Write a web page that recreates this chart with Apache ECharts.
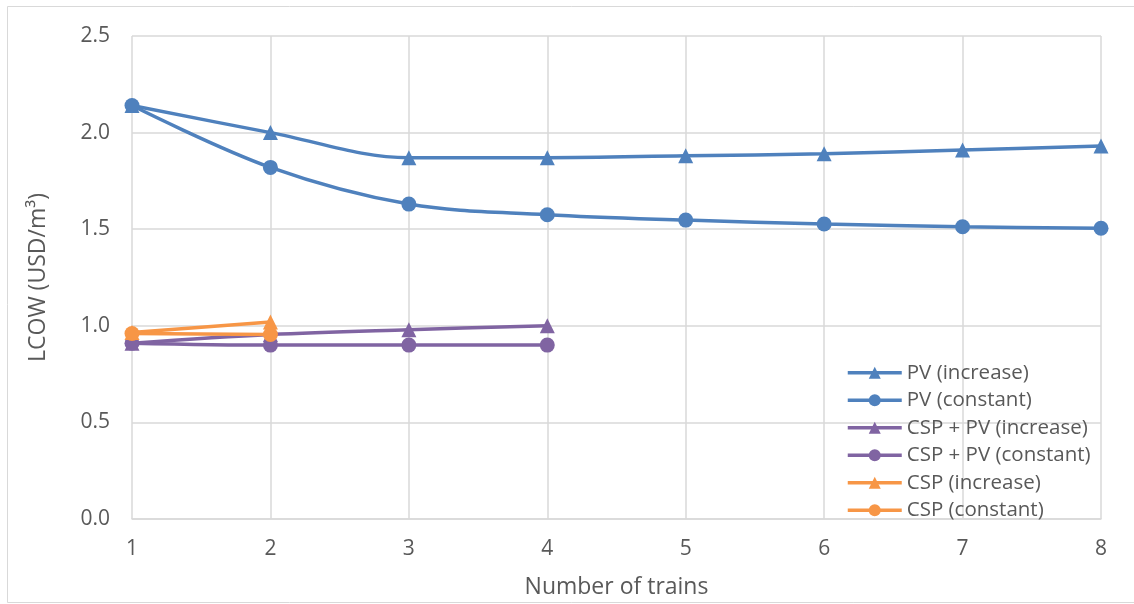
<!DOCTYPE html>
<html>
<head>
<meta charset="utf-8">
<script src="https://cdn.jsdelivr.net/npm/echarts@6/dist/echarts.min.js"></script>
<style>
  html, body { margin: 0; padding: 0; background: #fff; }
  #chart { width: 1134px; height: 604px; }
</style>
</head>
<body>
<div id="chart"></div>
<script>
// Number of trains on the x axis
const trains = [1, 2, 3, 4, 5, 6, 7, 8];

// LCOW (USD/m³) per configuration
const pvIncrease    = [2.14, 2.00, 1.87, 1.87, 1.88, 1.89, 1.91, 1.93];
const pvConstant    = [2.14, 1.82, 1.63, 1.575, 1.547, 1.527, 1.513, 1.505];
const cspPvIncrease = [0.91, 0.955, 0.98, 1.00];
const cspPvConstant = [0.91, 0.90, 0.90, 0.90];
const cspIncrease   = [0.965, 1.02];
const cspConstant   = [0.96, 0.955];

const seriesNames = [
  'PV (increase)', 'PV (constant)',
  'CSP + PV (increase)', 'CSP + PV (constant)',
  'CSP (increase)', 'CSP (constant)'
];

const BLUE = '#4F81BD', PURPLE = '#8064A2', ORANGE = '#F79646';
const FONT = 'Open Sans';
const TEXT = '#595959';

function pairs(values) {
  return values.map((v, i) => [trains[i], v]);
}

function line(name, values, color, symbol) {
  return {
    name: name,
    type: 'line',
    data: pairs(values),
    smooth: 0.35,
    symbol: symbol,
    symbolSize: 15,
    showSymbol: true,
    lineStyle: { color: color, width: 3.5 },
    itemStyle: { color: color },
    emphasis: { disabled: true }
  };
}

const chart = echarts.init(document.getElementById('chart'), null, { renderer: 'canvas' });

chart.setOption({
  animation: false,
  backgroundColor: '#fff',
  textStyle: { fontFamily: FONT, color: TEXT },
  graphic: [{
    type: 'rect',
    shape: { x: 7.5, y: 6.5, width: 1140, height: 596 },
    style: { fill: 'none', stroke: '#d9d9d9', lineWidth: 1 },
    silent: true
  }],
  grid: { left: 132, right: 33, top: 36, bottom: 83 },
  legend: {
    orient: 'vertical',
    left: 841,
    top: 357,
    itemWidth: 54,
    itemHeight: 15,
    itemGap: 6,
    data: seriesNames,
    lineStyle: { width: 3.5 },
    textStyle: { fontFamily: FONT, fontSize: 20.5, lineHeight: 21.5, color: TEXT }
  },
  xAxis: {
    type: 'value',
    min: 1,
    max: 8,
    interval: 1,
    name: 'Number of trains',
    nameLocation: 'middle',
    nameGap: 57,
    nameTextStyle: { fontFamily: FONT, fontSize: 23, color: TEXT },
    axisLine: { show: true, lineStyle: { color: '#d9d9d9', width: 1.5 } },
    axisTick: { show: false },
    axisLabel: { fontFamily: FONT, fontSize: 21, color: TEXT, margin: 20 },
    splitLine: { show: true, lineStyle: { color: '#d9d9d9', width: 1.5 } }
  },
  yAxis: {
    type: 'value',
    min: 0,
    max: 2.5,
    interval: 0.5,
    name: 'LCOW (USD/m³)',
    nameLocation: 'middle',
    nameGap: 82,
    nameTextStyle: { fontFamily: FONT, fontSize: 23, color: TEXT },
    axisLine: { show: false },
    axisTick: { show: false },
    axisLabel: {
      fontFamily: FONT, fontSize: 21, color: TEXT, margin: 22,
      formatter: v => v.toFixed(1)
    },
    splitLine: { show: true, lineStyle: { color: '#d9d9d9', width: 1.5 } }
  },
  series: [
    line(seriesNames[0], pvIncrease, BLUE, 'triangle'),
    line(seriesNames[1], pvConstant, BLUE, 'circle'),
    line(seriesNames[2], cspPvIncrease, PURPLE, 'triangle'),
    line(seriesNames[3], cspPvConstant, PURPLE, 'circle'),
    line(seriesNames[4], cspIncrease, ORANGE, 'triangle'),
    line(seriesNames[5], cspConstant, ORANGE, 'circle')
  ]
});
</script>
</body>
</html>
